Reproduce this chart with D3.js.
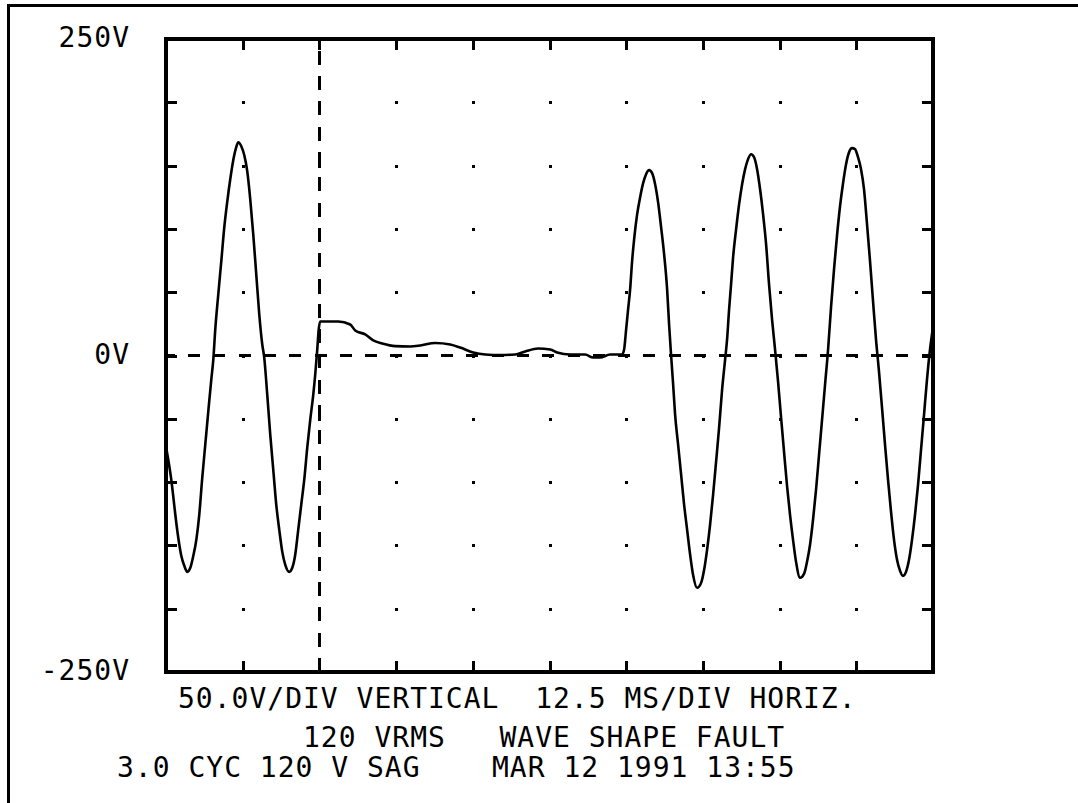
<!DOCTYPE html>
<html>
<head>
<meta charset="utf-8">
<script src="https://cdn.jsdelivr.net/npm/d3@7"></script>
<style>
  html, body { margin: 0; padding: 0; background: #fff; }
  text { font-family: "DejaVu Sans Mono", "Liberation Mono", monospace; font-size: 28px; fill: #000; letter-spacing: 1px; }
</style>
</head>
<body>
<script>
// time in ms, voltage in V
const timeMs = [
	0.0, 0.37, 0.86, 1.19, 1.52, 2.00, 2.49, 2.98, 3.47, 3.96, 4.45, 4.94, 5.42, 5.91, 6.40, 6.89, 7.38, 7.71,
	8.03, 8.52, 9.01, 9.50, 9.99, 10.47, 10.96, 11.45, 11.78, 12.27, 12.76, 13.24, 13.73, 14.22, 14.71, 15.20,
	15.69, 16.01, 16.50, 16.99, 17.48, 17.97, 18.46, 18.95, 19.44, 20.09, 20.58, 21.06, 21.55, 22.04, 22.53,
	23.02, 23.51, 24.00, 24.32, 24.65, 24.89, 25.14,
	28.07, 30.02, 30.84, 32.47, 33.77, 35.24, 37.35, 39.80, 41.43, 43.87, 46.32, 47.94, 50.06, 52.02, 54.46,
	56.90, 58.54, 60.65, 62.61, 63.75, 65.86, 68.31, 69.61, 70.75, 72.38, 74.34,
	74.66, 74.99, 75.31, 75.64, 75.96, 76.29, 76.78, 77.27, 77.76, 78.24, 78.73, 79.22, 79.71, 80.20, 80.69,
	81.18, 81.67, 81.99, 82.32, 82.65, 82.97, 83.46, 83.95, 84.44, 84.93, 85.42, 85.90, 86.56, 87.21, 87.70,
	88.18, 88.67, 89.16, 89.65, 90.14, 90.63, 91.12, 91.44, 91.77, 92.09, 92.42, 92.91, 93.40, 93.89, 94.38,
	94.86, 95.35, 95.84, 96.33, 96.82, 97.31, 97.80, 98.28, 98.77, 99.26,
	99.75, 100.24, 100.72, 101.21, 101.70, 102.19, 102.68, 103.33, 103.98, 104.47, 104.96, 105.45, 105.94,
	106.43, 106.92, 107.41, 107.90, 108.38, 108.87, 109.36, 109.85, 110.34, 110.83, 111.32, 111.80, 112.29,
	112.78, 113.27, 113.76, 114.25, 114.74, 115.23, 115.71, 116.20, 116.69, 117.18, 117.67, 118.16, 118.65,
	119.14, 119.63, 120.11, 120.60, 121.09, 121.58, 122.07, 122.56, 123.05, 123.54, 124.02, 124.51, 125.0
];
const volts = [
	-72.0, -82.3, -98.1, -111.5, -125.8, -144.0, -158.2, -166.1, -170.9, -167.7, -158.2, -145.6, -125.8, -96.5, -70.4, -44.3, -19.0, -3.2,
	20.6, 48.3, 74.4, 101.3, 121.8, 139.2, 154.3, 164.6, 168.5, 165.3, 158.2, 145.6, 123.4, 95.7, 64.1, 32.4,
	8.7, -1.6, -30.9, -62.5, -90.2, -117.9, -137.7, -155.1, -165.3, -170.9, -167.7, -157.4, -137.7, -117.9, -98.1,
	-72.8, -50.6, -30.9, -15.0, 4.7, 20.6, 26.9,
	26.9, 24.5, 19.8, 16.6, 11.9, 9.5, 7.4, 7.1, 7.9, 9.9, 8.7, 6.3, 2.4, 0.8, 0.4,
	0.8, 3.2, 5.5, 4.7, 2.4, 0.8, 0.8, -1.6, -1.6, 0.8, 0.8,
	4.7, 20.6, 36.4, 52.2, 74.4, 91.8, 111.5, 125.0, 136.1, 143.2, 146.4, 144.0, 135.3, 121.0, 101.3,
	79.9, 52.2, 24.5, 0.0, -22.9, -46.7, -70.4, -94.1, -117.9, -137.7, -157.4, -173.3, -183.5, -179.6, -169.3,
	-153.5, -133.7, -110.0, -83.9, -57.0, -26.9, -3.2, 12.7, 36.4, 56.2, 77.5, 99.7, 119.5, 135.3, 147.2,
	155.1, 159.0, 156.6, 147.2, 131.3, 111.5, 87.8, 56.2, 28.5, 4.7,
	-20.6, -49.1, -75.9, -102.8, -125.8, -145.6, -163.0, -175.6, -172.5, -163.0, -149.5, -129.7, -106.0,
	-78.3, -50.6, -22.9, 4.7, 38.0, 68.0, 94.9, 117.9, 136.1, 151.1, 160.6, 163.8, 163.0,
	156.6, 147.2, 131.3, 103.6, 74.4, 42.7, 12.7, -12.7, -41.1, -70.4, -98.1, -123.4, -145.6,
	-161.4, -170.1, -174.1, -170.9, -161.4, -145.6, -125.8, -102.1, -74.4, -46.7, -19.0, 4.7, 22.2
];

// 10 divisions each way: 12.5 ms/div and 50 V/div
const xDivs = [0, 12.5, 25, 37.5, 50, 62.5, 75, 87.5, 100, 112.5, 125];
const yDivs = [-250, -200, -150, -100, -50, 0, 50, 100, 150, 200, 250];
const yLabelValues = [250, 0, -250];
const yLabelTexts = ["250V", "0V", "-250V"];
const triggerMs = 25;

const footerLines = [
	"50.0V/DIV VERTICAL  12.5 MS/DIV HORIZ.",
	"120 VRMS   WAVE SHAPE FAULT",
	"3.0 CYC 120 V SAG    MAR 12 1991 13:55"
];

const width = 1078, height = 803;
const plotL = 166, plotR = 933, plotT = 39, plotB = 672;

const x = d3.scaleLinear().domain([0, 125]).range([plotL, plotR]);
const y = d3.scaleLinear().domain([-250, 250]).range([plotB, plotT]);

const svg = d3.select("body").append("svg")
	.attr("width", width).attr("height", height)
	.style("display", "block");

svg.append("rect").attr("width", width).attr("height", height).attr("fill", "#fff");

// page frame (only top and left edges are visible)
svg.append("path")
	.attr("d", `M8.5,${height} V5.5 H${width}`)
	.attr("fill", "none").attr("stroke", "#000").attr("stroke-width", 3)
	.attr("shape-rendering", "crispEdges");

// inward ticks on all four sides
const tickLen = -11;
const axes = [
	{ axis: d3.axisLeft(y).tickValues(yDivs).tickSize(tickLen), tr: `translate(${plotL},0)` },
	{ axis: d3.axisRight(y).tickValues(yDivs).tickSize(tickLen), tr: `translate(${plotR},0)` },
	{ axis: d3.axisTop(x).tickValues(xDivs).tickSize(tickLen), tr: `translate(0,${plotT})` },
	{ axis: d3.axisBottom(x).tickValues(xDivs).tickSize(tickLen), tr: `translate(0,${plotB})` }
];
axes.forEach(a => {
	const g = svg.append("g").attr("transform", a.tr).call(a.axis.tickFormat(""));
	g.select(".domain").remove();
	g.selectAll(".tick line").attr("stroke", "#000").attr("stroke-width", 3)
		.attr("shape-rendering", "crispEdges");
});

// grid dots at every inner division crossing
const dots = [];
xDivs.slice(1, -1).forEach(xv => yDivs.slice(1, -1).forEach(yv => dots.push([xv, yv])));
svg.append("g").selectAll("rect")
	.data(dots)
	.enter().append("rect")
	.attr("x", d => Math.round(x(d[0])) - 1)
	.attr("y", d => Math.round(y(d[1])) - 1)
	.attr("width", 3).attr("height", 3)
	.attr("fill", "#000");

// dashed zero line and trigger line
svg.append("line")
	.attr("x1", plotL).attr("x2", plotR).attr("y1", y(0)).attr("y2", y(0))
	.attr("stroke", "#000").attr("stroke-width", 3)
	.attr("stroke-dasharray", "12,13.3").attr("stroke-dashoffset", 3.3)
	.attr("shape-rendering", "crispEdges");
svg.append("line")
	.attr("x1", x(triggerMs)).attr("x2", x(triggerMs)).attr("y1", plotB).attr("y2", plotT)
	.attr("stroke", "#000").attr("stroke-width", 3)
	.attr("stroke-dasharray", "14,11.3")
	.attr("shape-rendering", "crispEdges");

// the trace
const pts = timeMs.map((t, i) => [t, volts[i]]);
const line = d3.line()
	.x(d => x(d[0]))
	.y(d => y(d[1]))
	.curve(d3.curveMonotoneX);
svg.append("path")
	.datum(pts)
	.attr("d", line)
	.attr("fill", "none").attr("stroke", "#000").attr("stroke-width", 2.6)
	.attr("stroke-linejoin", "round");

// plot frame
svg.append("rect")
	.attr("x", plotL).attr("y", plotT)
	.attr("width", plotR - plotL).attr("height", plotB - plotT)
	.attr("fill", "none").attr("stroke", "#000").attr("stroke-width", 3.5)
	.attr("shape-rendering", "crispEdges");

// voltage labels
svg.selectAll("text.ylab")
	.data(yLabelValues)
	.enter().append("text")
	.attr("class", "ylab")
	.attr("x", 130)
	.attr("y", d => y(d) + 8)
	.attr("text-anchor", "end")
	.text((d, i) => yLabelTexts[i]);

// footer lines
const footerX = [178, 303, 117];
const footerY = [708, 747, 777];
svg.selectAll("text.foot")
	.data(footerLines)
	.enter().append("text")
	.attr("class", "foot")
	.attr("x", (d, i) => footerX[i])
	.attr("y", (d, i) => footerY[i])
	.attr("xml:space", "preserve")
	.style("white-space", "pre")
	.text(d => d);
</script>
</body>
</html>
